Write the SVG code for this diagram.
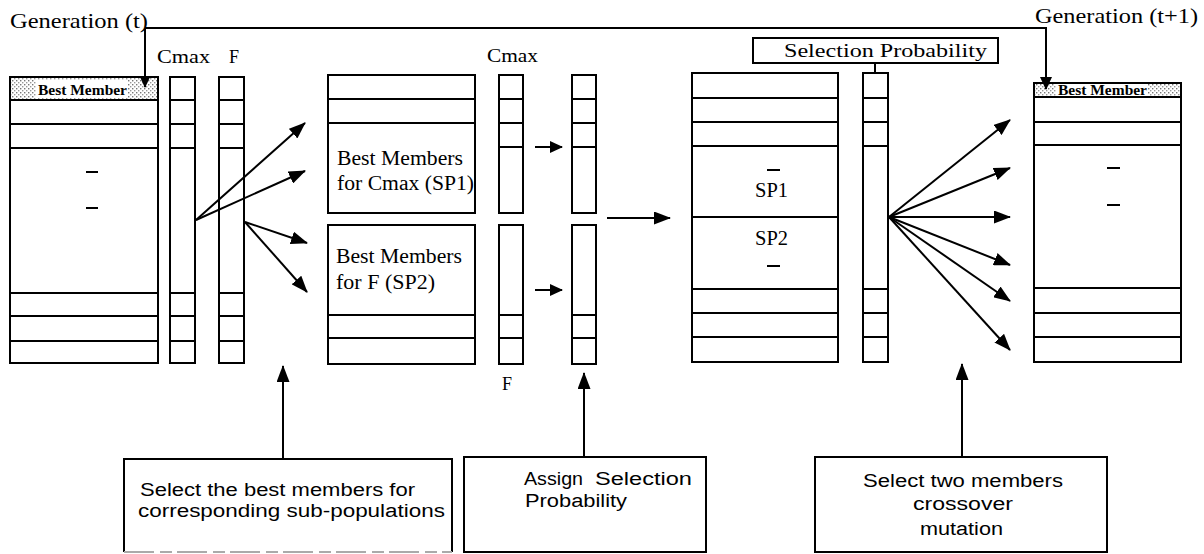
<svg xmlns="http://www.w3.org/2000/svg" width="1204" height="554" viewBox="0 0 1204 554">
  <style>
    .box { fill: #fff; stroke: #000; stroke-width: 2; }
    .div { stroke: #000; stroke-width: 2; fill: none; }
    .ln { stroke: #000; stroke-width: 2; fill: none; }
    .dash { stroke: #000; stroke-width: 2; }
    .serif { font-family: "Liberation Serif", "Times New Roman", serif; fill: #000; }
    .sans { font-family: "Liberation Sans", Arial, sans-serif; fill: #000; }
    .lbl { font-size: 20px; }
    .bm { font-size: 15px; font-weight: bold; }
    .step { font-size: 18px; }
  </style>
  <defs>
    <pattern id="halftone" width="4" height="4" patternUnits="userSpaceOnUse">
      <rect width="4" height="4" fill="#fff"/>
      <rect x="0" y="0" width="1.4" height="1.4" fill="#777"/>
      <rect x="2" y="2" width="1.4" height="1.4" fill="#999"/>
    </pattern>
    <marker id="ah" markerUnits="userSpaceOnUse" markerWidth="17" markerHeight="13" refX="16" refY="6.5" orient="auto">
      <path d="M0,0 L17,6.5 L0,13 z" fill="#000"/>
    </marker>
    <marker id="ahs" markerUnits="userSpaceOnUse" markerWidth="13" markerHeight="12" refX="12" refY="6" orient="auto">
      <path d="M0,0 L13,6 L0,12 z" fill="#000"/>
    </marker>
    <marker id="aht" markerUnits="userSpaceOnUse" markerWidth="11" markerHeight="10" refX="10" refY="5" orient="auto">
      <path d="M0,0 L11,5 L0,10 z" fill="#000"/>
    </marker>
  </defs>

  <rect width="1204" height="554" fill="#fff"/>

  <!-- generation labels -->
  <text class="serif" x="10" y="28" font-size="22" textLength="138" lengthAdjust="spacingAndGlyphs">Generation (t)</text>
  <text class="serif" x="1035" y="23" font-size="22" textLength="163" lengthAdjust="spacingAndGlyphs">Generation (t+1)</text>

  <!-- current population -->
  <g id="population-t">
    <rect class="box" x="10" y="77" width="148" height="286"/>
    <rect x="11" y="78" width="146" height="21" fill="url(#halftone)"/>
    <rect x="36" y="80" width="92" height="18" fill="#fff"/>
    <path class="div" d="M10,100 H158 M10,124 H158 M10,148 H158 M10,293 H158 M10,316 H158 M10,341 H158"/>
    <text class="serif bm" x="38" y="95" textLength="89" lengthAdjust="spacingAndGlyphs">Best Member</text>
    <line class="dash" x1="86" y1="172" x2="98" y2="172"/>
    <line class="dash" x1="86" y1="208" x2="98" y2="208"/>
  </g>

  <!-- objective columns of the current population -->
  <g id="cmax-column">
    <text class="serif" x="157" y="63" font-size="18" textLength="53" lengthAdjust="spacingAndGlyphs">Cmax</text>
    <rect class="box" x="170" y="77" width="25" height="286"/>
    <path class="div" d="M170,100 H195 M170,124 H195 M170,148 H195 M170,293 H195 M170,316 H195 M170,341 H195"/>
  </g>
  <g id="f-column">
    <text class="serif" x="229" y="63" font-size="18">F</text>
    <rect class="box" x="219" y="77" width="25" height="286"/>
    <path class="div" d="M219,100 H244 M219,124 H244 M219,148 H244 M219,293 H244 M219,316 H244 M219,341 H244"/>
  </g>

  <!-- sub-populations -->
  <g id="sp1-block">
    <rect class="box" x="328" y="75" width="147" height="138"/>
    <path class="div" d="M328,99 H475 M328,123 H475"/>
    <text class="serif lbl" x="337" y="165" textLength="126" lengthAdjust="spacingAndGlyphs">Best Members</text>
    <text class="serif lbl" x="337" y="190" textLength="137" lengthAdjust="spacingAndGlyphs">for Cmax (SP1)</text>
  </g>
  <g id="sp2-block">
    <rect class="box" x="328" y="225" width="147" height="139"/>
    <path class="div" d="M328,315 H475 M328,338 H475"/>
    <text class="serif lbl" x="336" y="263" textLength="126" lengthAdjust="spacingAndGlyphs">Best Members</text>
    <text class="serif lbl" x="336" y="289" textLength="99" lengthAdjust="spacingAndGlyphs">for F (SP2)</text>
  </g>

  <g id="sub-objective-columns">
    <text class="serif" x="487" y="62" font-size="18" textLength="51" lengthAdjust="spacingAndGlyphs">Cmax</text>
    <rect class="box" x="499" y="75" width="24" height="138"/>
    <path class="div" d="M499,99 H523 M499,123 H523 M499,147 H523"/>
    <rect class="box" x="499" y="225" width="24" height="139"/>
    <path class="div" d="M499,315 H523 M499,338 H523"/>
    <text class="serif" x="502" y="390" font-size="18">F</text>
  </g>

  <g id="sub-probability-columns">
    <rect class="box" x="572" y="75" width="24" height="138"/>
    <path class="div" d="M572,99 H596 M572,123 H596 M572,147 H596"/>
    <rect class="box" x="572" y="225" width="24" height="139"/>
    <path class="div" d="M572,315 H596 M572,338 H596"/>
  </g>

  <!-- merged mating pool -->
  <g id="merged-pool">
    <rect class="box" x="692" y="73" width="146" height="289"/>
    <path class="div" d="M692,98 H838 M692,122 H838 M692,146 H838 M692,217 H838 M692,289 H838 M692,313 H838 M692,337 H838"/>
    <line class="dash" x1="767" y1="170" x2="780" y2="170"/>
    <text class="serif lbl" x="755" y="197" textLength="33" lengthAdjust="spacingAndGlyphs">SP1</text>
    <text class="serif lbl" x="755" y="245" textLength="33" lengthAdjust="spacingAndGlyphs">SP2</text>
    <line class="dash" x1="767" y1="266" x2="780" y2="266"/>
  </g>

  <g id="selection-probability">
    <rect class="box" x="753" y="38" width="245" height="25"/>
    <text class="serif" x="784" y="57" font-size="19" textLength="203" lengthAdjust="spacingAndGlyphs">Selection Probability</text>
    <line class="ln" x1="875" y1="63" x2="875" y2="73"/>
    <rect class="box" x="863" y="73" width="25" height="289"/>
    <path class="div" d="M863,98 H888 M863,122 H888 M863,146 H888 M863,289 H888 M863,313 H888 M863,337 H888"/>
  </g>

  <!-- next population -->
  <g id="population-t1">
    <rect class="box" x="1034" y="83" width="147" height="279"/>
    <rect x="1035" y="84" width="145" height="12" fill="url(#halftone)"/>
    <rect x="1056" y="84" width="92" height="12" fill="#fff"/>
    <path class="div" d="M1034,97 H1181 M1034,122 H1181 M1034,145 H1181 M1034,288 H1181 M1034,313 H1181 M1034,337 H1181"/>
    <text class="serif bm" x="1058" y="95" textLength="89" lengthAdjust="spacingAndGlyphs">Best Member</text>
    <line class="dash" x1="1107" y1="168" x2="1120" y2="168"/>
    <line class="dash" x1="1107" y1="205" x2="1120" y2="205"/>
  </g>

  <!-- step descriptions -->
  <g id="step-select-best">
    <path class="ln" d="M124,552 V459 H452 V552"/>
    <line x1="124" y1="552" x2="452" y2="552" stroke="#aaa" stroke-width="2" stroke-dasharray="30 6 12 5"/>
    <text class="sans step" x="140" y="496" textLength="275" lengthAdjust="spacingAndGlyphs">Select the best members for</text>
    <text class="sans step" x="138" y="517" textLength="307" lengthAdjust="spacingAndGlyphs">corresponding sub-populations</text>
  </g>
  <g id="step-assign">
    <rect class="box" x="464" y="457" width="242" height="95"/>
    <text class="sans step" y="485"><tspan x="524" textLength="59" lengthAdjust="spacingAndGlyphs">Assign</tspan><tspan x="595" textLength="97" lengthAdjust="spacingAndGlyphs">Selection</tspan></text>
    <text class="sans step" x="525" y="507" textLength="102" lengthAdjust="spacingAndGlyphs">Probability</text>
  </g>
  <g id="step-reproduce">
    <rect class="box" x="815" y="457" width="292" height="95"/>
    <text class="sans step" x="863" y="487" textLength="200" lengthAdjust="spacingAndGlyphs">Select two members</text>
    <text class="sans step" x="913" y="510" textLength="100" lengthAdjust="spacingAndGlyphs">crossover</text>
    <text class="sans step" x="920" y="535" textLength="83" lengthAdjust="spacingAndGlyphs">mutation</text>
  </g>

  <!-- connectors -->
  <g id="connectors">
    <path class="ln" d="M145,29 V87" marker-end="url(#aht)"/>
    <path class="ln" d="M145,28 H1046 V89" marker-end="url(#ahs)"/>

    <line class="ln" x1="196" y1="220" x2="305" y2="123" marker-end="url(#ah)"/>
    <line class="ln" x1="196" y1="220" x2="305" y2="171" marker-end="url(#ah)"/>
    <line class="ln" x1="245" y1="222" x2="307" y2="243" marker-end="url(#ah)"/>
    <line class="ln" x1="245" y1="222" x2="307" y2="292" marker-end="url(#ah)"/>

    <line class="ln" x1="535" y1="147" x2="562" y2="147" marker-end="url(#ahs)"/>
    <line class="ln" x1="535" y1="290" x2="562" y2="290" marker-end="url(#ahs)"/>

    <line class="ln" x1="607" y1="218" x2="670" y2="218" marker-end="url(#ah)"/>

    <line class="ln" x1="889" y1="217" x2="1010" y2="120" marker-end="url(#ah)"/>
    <line class="ln" x1="889" y1="217" x2="1010" y2="168" marker-end="url(#ah)"/>
    <line class="ln" x1="889" y1="217" x2="1010" y2="217" marker-end="url(#ah)"/>
    <line class="ln" x1="889" y1="217" x2="1010" y2="265" marker-end="url(#ah)"/>
    <line class="ln" x1="889" y1="217" x2="1010" y2="301" marker-end="url(#ah)"/>
    <line class="ln" x1="889" y1="217" x2="1010" y2="350" marker-end="url(#ah)"/>

    <line class="ln" x1="283" y1="459" x2="283" y2="366" marker-end="url(#ah)"/>
    <line class="ln" x1="584" y1="457" x2="584" y2="373" marker-end="url(#ah)"/>
    <line class="ln" x1="962" y1="457" x2="962" y2="364" marker-end="url(#ah)"/>
  </g>
</svg>
